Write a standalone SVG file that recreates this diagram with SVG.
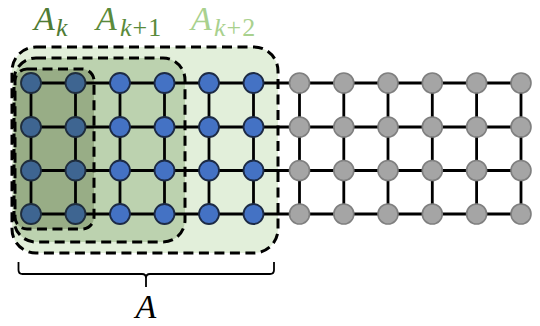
<svg xmlns="http://www.w3.org/2000/svg" width="540" height="326" viewBox="0 0 540 326">
<style>
.lbl{font-family:"Liberation Serif","DejaVu Serif",serif;font-style:italic;font-size:34px}
.sub{font-size:26px}
.up{font-style:normal}
.dash{fill:none;stroke:#000;stroke-width:3;stroke-dasharray:10 5.5}
.edge{stroke:#000;stroke-width:2.8;fill:none}
.gray{fill:#a5a5a5;stroke:#7f7f7f;stroke-width:1.6}
.blue{fill:#4472c4;stroke:#1c2a45;stroke-width:1.8}
.dark{fill:#3e6591;stroke:#1f2d3d;stroke-width:1.8}
</style>
<rect width="540" height="326" fill="#fff"/>
<g id="region-fills">
  <rect x="12" y="47" width="266" height="206" rx="24" fill="#e2efda"/>
  <rect x="14" y="58" width="171" height="184" rx="22" fill="#bcd2af"/>
  <rect x="15" y="69" width="79" height="160" rx="12" fill="#98ad86"/>
</g>
<g id="connectors">
  <path class="edge" d="M31 83H521M31 127H521M31 170.5H521M31 214H521"/>
  <path class="edge" d="M31 83V214M75.5 83V214M120 83V214M164.5 83V214M209 83V214M253.5 83V214M299.5 83V214M343.8 83V214M388 83V214M432.3 83V214M476.6 83V214M521 83V214"/>
</g>
<g id="nodes-Ak">
  <circle class="dark" cx="31" cy="83" r="10"/><circle class="dark" cx="75.5" cy="83" r="10"/>
  <circle class="dark" cx="31" cy="127" r="10"/><circle class="dark" cx="75.5" cy="127" r="10"/>
  <circle class="dark" cx="31" cy="170.5" r="10"/><circle class="dark" cx="75.5" cy="170.5" r="10"/>
  <circle class="dark" cx="31" cy="214" r="10"/><circle class="dark" cx="75.5" cy="214" r="10"/>
</g>
<g id="nodes-blue">
  <circle class="blue" cx="120" cy="83" r="10"/><circle class="blue" cx="164.5" cy="83" r="10"/><circle class="blue" cx="209" cy="83" r="10"/><circle class="blue" cx="253.5" cy="83" r="10"/>
  <circle class="blue" cx="120" cy="127" r="10"/><circle class="blue" cx="164.5" cy="127" r="10"/><circle class="blue" cx="209" cy="127" r="10"/><circle class="blue" cx="253.5" cy="127" r="10"/>
  <circle class="blue" cx="120" cy="170.5" r="10"/><circle class="blue" cx="164.5" cy="170.5" r="10"/><circle class="blue" cx="209" cy="170.5" r="10"/><circle class="blue" cx="253.5" cy="170.5" r="10"/>
  <circle class="blue" cx="120" cy="214" r="10"/><circle class="blue" cx="164.5" cy="214" r="10"/><circle class="blue" cx="209" cy="214" r="10"/><circle class="blue" cx="253.5" cy="214" r="10"/>
</g>
<g id="nodes-gray">
  <circle class="gray" cx="299.5" cy="83" r="10"/><circle class="gray" cx="343.8" cy="83" r="10"/><circle class="gray" cx="388" cy="83" r="10"/><circle class="gray" cx="432.3" cy="83" r="10"/><circle class="gray" cx="476.6" cy="83" r="10"/><circle class="gray" cx="521" cy="83" r="10"/>
  <circle class="gray" cx="299.5" cy="127" r="10"/><circle class="gray" cx="343.8" cy="127" r="10"/><circle class="gray" cx="388" cy="127" r="10"/><circle class="gray" cx="432.3" cy="127" r="10"/><circle class="gray" cx="476.6" cy="127" r="10"/><circle class="gray" cx="521" cy="127" r="10"/>
  <circle class="gray" cx="299.5" cy="170.5" r="10"/><circle class="gray" cx="343.8" cy="170.5" r="10"/><circle class="gray" cx="388" cy="170.5" r="10"/><circle class="gray" cx="432.3" cy="170.5" r="10"/><circle class="gray" cx="476.6" cy="170.5" r="10"/><circle class="gray" cx="521" cy="170.5" r="10"/>
  <circle class="gray" cx="299.5" cy="214" r="10"/><circle class="gray" cx="343.8" cy="214" r="10"/><circle class="gray" cx="388" cy="214" r="10"/><circle class="gray" cx="432.3" cy="214" r="10"/><circle class="gray" cx="476.6" cy="214" r="10"/><circle class="gray" cx="521" cy="214" r="10"/>
</g>
<g id="region-Ak2"><rect class="dash" x="12" y="47" width="266" height="206" rx="24"/></g>
<g id="region-Ak1"><rect class="dash" x="14" y="58" width="171" height="184" rx="22"/></g>
<g id="region-Ak"><rect class="dash" x="15" y="69" width="79" height="160" rx="12"/></g>
<g id="labels">
  <text class="lbl" x="34" y="30" fill="#4f7b35">A<tspan class="sub" x="56" dy="6">k</tspan></text>
  <text class="lbl" x="96" y="30" fill="#5a8a3b">A<tspan class="sub" x="120" dy="6" letter-spacing="1">k<tspan class="up">+1</tspan></tspan></text>
  <text class="lbl" x="191" y="30" fill="#a9d18e">A<tspan class="sub" x="214" dy="6" letter-spacing="1">k<tspan class="up">+2</tspan></tspan></text>
</g>
<g id="brace">
  <path d="M18.5 262V270Q18.5 274 22.5 274H142Q146 274 146 278V287M146 278Q146 274 150 274H270Q274 274 274 270V262" fill="none" stroke="#000" stroke-width="1.8"/>
  <text class="lbl" x="146" y="318" text-anchor="middle" font-size="36">A</text>
</g>
</svg>
